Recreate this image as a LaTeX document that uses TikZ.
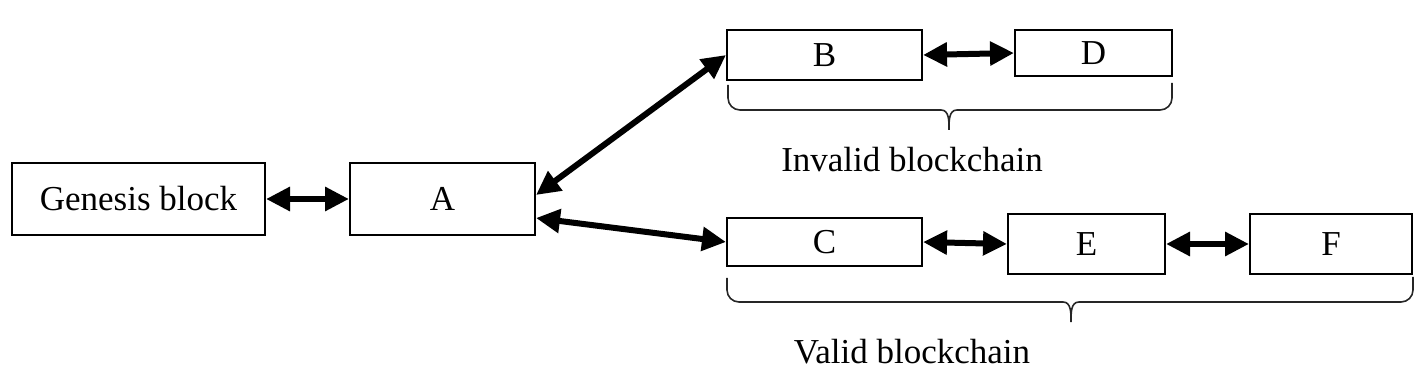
\documentclass[tikz,border=0pt]{standalone}
\usepackage{fontspec}
\setmainfont{Liberation Serif}
\usepackage{tikz}
\usetikzlibrary{arrows.meta,positioning,calc}

\begin{document}
\begin{tikzpicture}[
    x=0.5pt, y=-0.5pt,
    >={Triangle[length=12pt,width=11.5pt]},
    block/.style={draw=black, line width=1pt, fill=white, inner sep=0pt, font=\fontsize{17.5}{21}\selectfont},
    link/.style={<->, line width=3pt},
    chainbrace/.style={draw=black!85, line width=0.8pt},
    bracearm/.style={chainbrace, rounded corners=6pt},
    chainlabel/.style={font=\fontsize{17.5}{21}\selectfont, inner sep=0pt}
]
\useasboundingbox (0,0) rectangle (1422,384);
\node[block, minimum width=126.5pt, minimum height=36pt] (gen) at (138.5,199) {Genesis block};
\node[block, minimum width=92.5pt, minimum height=36pt] (a) at (442.5,199) {A};
\node[block, minimum width=97.5pt, minimum height=25pt] (b) at (824.5,55) {B};
\node[block, minimum width=78.5pt, minimum height=23pt] (d) at (1093.5,53) {D};
\node[block, minimum width=97.5pt, minimum height=24pt] (c) at (824.5,242) {C};
\node[block, minimum width=78.5pt, minimum height=30pt] (e) at (1086.5,244) {E};
\node[block, minimum width=81pt, minimum height=30pt] (f) at (1331,244) {F};
\draw[link] (gen.east) -- (a.west);
\draw[link] ([yshift=2pt]a.east) -- (b.west);
\draw[link] ([yshift=-9.5pt]a.east) -- (c.west);
\draw[link] (b.east) -- (d.west);
\draw[link] (c.east) -- (e.west);
\draw[link] (e.east) -- (f.west);
\draw[bracearm] (728,85) |- (941,110);
\draw[chainbrace] (941,110) to[out=0,in=90] (949,130) to[out=90,in=180] (957,110);
\draw[bracearm] (957,110) -| (1172,83);
\draw[bracearm] (727,278) |- (1063,302);
\draw[chainbrace] (1063,302) to[out=0,in=90] (1071,322) to[out=90,in=180] (1079,302);
\draw[bracearm] (1079,302) -| (1413,277);
\node[chainlabel] (inv) at (912,160) {Invalid blockchain};
\node[chainlabel] (val) at (912,352) {Valid blockchain};
\end{tikzpicture}
\end{document}
